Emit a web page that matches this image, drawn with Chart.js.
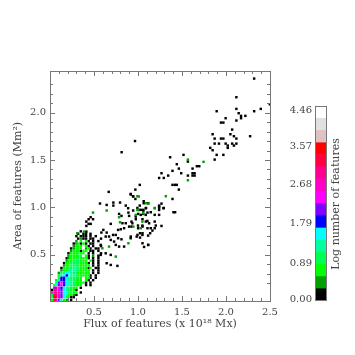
<!DOCTYPE html>
<html lang="en">
<head>
  <meta charset="UTF-8" />
  <title>Area vs flux of features</title>
  <style>
    body { margin: 0; background: #fff; }
    #wrap { position: relative; width: 355px; height: 355px; overflow: hidden; }
    canvas { position: absolute; left: 0; top: 0; }
  </style>
</head>
<body>
  <div id="wrap">
    <canvas id="scatterChart" width="355" height="355"></canvas>
    <canvas id="barChart" width="355" height="355"></canvas>
  </div>

  <script src="https://cdn.jsdelivr.net/npm/chart.js"></script>
  <script>
    // colour levels of the log count, bottom of the colour bar first
    const levelColors = ['#000000', '#00a000', '#00ff00', '#00ff50', '#00ffa0', '#00ffff', '#0000ff', '#8000ff',
      '#ff00ff', '#ff00c8', '#ff0090', '#ff0040', '#ff0000', '#e0c0c0', '#e0e0e0', '#ffffff'];
    const levelEdges = [0, 0.28, 0.56, 0.84, 1.12, 1.39, 1.67, 1.95, 2.23, 2.51, 2.79, 3.07, 3.35, 3.62, 3.9, 4.18, 4.46];
    const barTicks = [0, 0.89, 1.79, 2.68, 3.57, 4.46];

    // dense part near the origin, one string per area bin (top down), one char per flux bin, char = level
    const coreFlux = [0.02, 0.05, 0.07, 0.10, 0.13, 0.16, 0.19, 0.21, 0.24, 0.27, 0.30, 0.32, 0.35, 0.38, 0.41, 0.44, 0.46, 0.49, 0.52, 0.55, 0.58];
    const coreArea = [0.746, 0.72, 0.695, 0.669, 0.643, 0.617, 0.59, 0.565, 0.54, 0.514, 0.488, 0.462, 0.436, 0.41, 0.385, 0.359, 0.333, 0.307, 0.28, 0.255, 0.23, 0.204, 0.178, 0.15, 0.127, 0.10, 0.075, 0.05, 0.02];
    const coreLevels = [
      '............0........',
      '...........0.00.0....',
      '..........0.000.0.0..',
      '...........0100.00..0',
      '..........1.2.20.0.0.',
      '.........012020.00...',
      '.........1222.20.0..0',
      '........01222.120.00.',
      '........1222022.00.0.',
      '.......0222322.0.0..0',
      '.......122223.20.1.0.',
      '......0122332220.0.0.',
      '......122333222.20.0.',
      '.....02233332220.0.0.',
      '.....12233332222.0.0.',
      '....0223344322202.00.',
      '....122344332222.0.0.',
      '...1345543322222.0.0.',
      '...24565443222220.0..',
      '...3665433322.220.0..',
      '..24665443222.20.0...',
      '..4786544322220.0....',
      '.257865443222.0.0....',
      '.7a86543322.0........',
      '0a997543220..........',
      '9aa97553322.0........',
      '2ba97542210..........',
      '3cb9753200...........',
      '2b97421.0............'
    ];

    // isolated black cells: flux, area
    const blackFlux = [2.32, 2.118, 2.498, 2.395, 2.118, 2.32, 1.894, 2.144, 2.171, 2.171, 2.22, 1.996, 2.118, 1.943, 1.97, 2.07, 1.848, 2.05, 2.09, 2.118, 1.943, 1.97, 1.871, 2.274, 1.871, 1.92, 1.996, 2.07, 2.118, 2.02, 2.02, 2.09, 1.821, 1.848, 1.894, 1.97, 1.871,
      1.517, 1.365, 1.567, 1.441, 1.696, 1.669, 1.464, 1.62, 1.392, 1.491, 1.267, 1.62, 1.643, 1.62, 1.643, 1.567, 1.343, 1.24, 1.293, 1.392, 1.419, 1.441, 1.02, 0.97, 1.464, 0.917, 0.944, 0.97, 1.392, 1.065, 1.065, 1.267, 1.24, 1.24, 0.993, 1.02, 1.092, 1.293, 0.966, 0.814,
      0.667, 0.918, 0.945, 0.568, 0.644, 0.72, 0.796, 0.72, 0.861, 0.888, 0.945, 0.891, 1.032, 1.059, 1.116, 0.785, 0.812, 0.899, 1.002, 1.059, 1.108, 0.462, 0.439, 0.489, 0.413, 0.439, 0.462, 0.413, 0.69, 0.823, 0.861, 0.926, 0.975, 1.051, 1.089, 0.606, 0.584, 0.644, 0.633, 0.671, 0.717, 0.747, 0.774, 0.804, 0.842, 0.899, 0.926, 1.002, 1.051, 1.108, 0.413, 0.69, 0.728, 0.774, 0.812, 0.918, 0.994, 1.051, 1.138, 0.576, 0.747, 0.785, 0.842, 1.051, 1.116, 0.576, 0.633, 0.69, 0.644, 0.69, 0.766,
      1.24, 1.289, 1.24, 1.403, 1.422, 1.012, 1.061, 1.088, 1.145, 1.19, 1.24, 1.088, 1.031, 0.974, 0.936, 1.107, 1.126, 1.19, 1.202, 1.267, 1.145, 1.19, 1.164, 1.0, 1.05, 0.917, 0.985, 1.023, 1.05, 1.023, 1.115, 1.069, 1.115];
    const blackArea = [2.36, 2.163, 2.089, 2.04, 2.04, 2.015, 2.015, 1.994, 1.966, 1.941, 1.966, 1.941, 1.917, 1.895, 1.895, 1.821, 1.772, 1.772, 1.751, 1.726, 1.726, 1.726, 1.726, 1.751, 1.673, 1.673, 1.673, 1.673, 1.673, 1.652, 1.628, 1.652, 1.628, 1.603, 1.554, 1.554, 1.504,
      1.554, 1.529, 1.483, 1.455, 1.434, 1.434, 1.409, 1.409, 1.385, 1.36, 1.36, 1.36, 1.36, 1.335, 1.335, 1.335, 1.335, 1.31, 1.31, 1.237, 1.237, 1.237, 1.237, 1.187, 1.187, 1.141, 1.117, 1.088, 1.088, 1.064, 1.043, 1.039, 1.018, 0.993, 0.993, 1.018, 0.993, 0.993, 1.70, 1.582,
      1.163, 1.135, 1.114, 1.04, 1.025, 1.05, 1.05, 1.018, 1.018, 0.99, 0.966, 0.944, 0.973, 0.973, 1.043, 0.93, 0.909, 0.909, 0.93, 0.93, 0.944, 0.895, 0.874, 0.874, 0.849, 0.825, 0.825, 0.803, 0.825, 0.832, 0.832, 0.849, 0.874, 0.874, 0.849, 0.761, 0.733, 0.733, 0.691, 0.691, 0.708, 0.708, 0.761, 0.768, 0.779, 0.796, 0.796, 0.779, 0.796, 0.779, 0.743, 0.655, 0.638, 0.673, 0.662, 0.691, 0.708, 0.726, 0.726, 0.603, 0.603, 0.585, 0.585, 0.62, 0.603, 0.497, 0.514, 0.497, 0.409, 0.391, 0.381,
      0.972, 0.99, 1.008, 0.948, 0.948, 0.972, 0.965, 0.99, 0.948, 0.92, 0.92, 0.92, 0.92, 0.902, 0.831, 0.856, 0.831, 0.849, 0.807, 0.803, 0.779, 0.779, 0.754, 0.807, 0.807, 0.673, 0.69, 0.726, 0.708, 0.68, 0.701, 0.581, 0.602];

    // isolated dark green cells
    const greenFlux = [1.567, 1.745, 1.567, 0.993, 1.316, 1.118, 1.19, 1.009, 1.002, 1.089, 0.644, 0.785, 0.489, 0.796, 0.31, 0.386, 0.595, 0.671, 0.891, 0.747, 1.19, 0.993, 1.061, 0.974, 0.947, 1.05, 1.031];
    const greenArea = [1.504, 1.48, 1.286, 1.117, 1.117, 1.039, 0.993, 1.114, 0.973, 1.043, 0.966, 0.895, 0.944, 0.842, 0.726, 0.743, 0.567, 0.585, 0.62, 0.479, 0.99, 0.972, 0.937, 0.92, 0.796, 0.849, 0.779];

    // one dataset per level
    const levelPoints = levelColors.map(() => []);
    blackFlux.forEach((x, i) => levelPoints[0].push({ x: x, y: blackArea[i] }));
    greenFlux.forEach((x, i) => levelPoints[1].push({ x: x, y: greenArea[i] }));
    coreLevels.forEach((row, r) => {
      row.split('').forEach((c, i) => {
        if (c !== '.') levelPoints[parseInt(c, 16)].push({ x: coreFlux[i], y: coreArea[r] });
      });
    });

    const axisColor = '#777';
    const textColor = '#444';
    const tickFont = { family: 'DejaVu Serif', size: 10 };
    const titleFont = { family: 'DejaVu Serif', size: 11 };

    function halfLabel(v) {
      const r = Math.round(v * 10);
      return (r > 0 && r % 5 === 0 && Math.abs(v * 10 - r) < 1e-6) ? v.toFixed(1) : '';
    }

    // inward ticks on all four sides, like the original frame
    const frameTicks = {
      id: 'frameTicks',
      afterDraw(chart) {
        const { ctx, chartArea: a, scales } = chart;
        ctx.save();
        ctx.strokeStyle = axisColor;
        ctx.lineWidth = 1;
        ctx.strokeRect(a.left + 0.5, a.top + 0.5, a.right - a.left, a.bottom - a.top);
        ctx.beginPath();
        scales.x.ticks.forEach(t => {
          const p = Math.round(scales.x.getPixelForValue(t.value)) + 0.5;
          const len = t.label ? 5 : 3;
          ctx.moveTo(p, a.bottom); ctx.lineTo(p, a.bottom - len);
          ctx.moveTo(p, a.top); ctx.lineTo(p, a.top + len);
        });
        scales.y.ticks.forEach(t => {
          const p = Math.round(scales.y.getPixelForValue(t.value)) + 0.5;
          const len = t.label ? 5 : 3;
          ctx.moveTo(a.left, p); ctx.lineTo(a.left + len, p);
          ctx.moveTo(a.right, p); ctx.lineTo(a.right - len, p);
        });
        ctx.stroke();
        ctx.restore();
      }
    };

    new Chart(document.getElementById('scatterChart'), {
      type: 'scatter',
      data: {
        datasets: levelColors.map((color, i) => ({
          data: levelPoints[i],
          backgroundColor: color,
          pointStyle: 'rect',
          pointRadius: 1.73,
          pointBorderWidth: 0
        })).reverse()
      },
      options: {
        responsive: false,
        animation: false,
        events: [],
        layout: { padding: { top: 71, right: 85, left: 12, bottom: 24 } },
        plugins: { legend: { display: false }, tooltip: { enabled: false } },
        scales: {
          x: {
            type: 'linear', min: 0, max: 2.5,
            grid: { display: false, drawTicks: false },
            border: { display: false },
            afterFit(s) { s.height = 30; },
            ticks: { stepSize: 0.1, autoSkip: false, maxRotation: 0, color: textColor, font: tickFont, padding: 5, callback: halfLabel },
            title: { display: true, text: 'Flux of features (x 10¹⁸ Mx)', color: textColor, font: titleFont, padding: { top: 2, bottom: 0 } }
          },
          y: {
            type: 'linear', min: 0.01, max: 2.44,
            grid: { display: false, drawTicks: false },
            border: { display: false },
            afterFit(s) { s.width = 38; },
            ticks: { stepSize: 0.1, autoSkip: false, color: textColor, font: tickFont, padding: 4, callback: halfLabel },
            title: { display: true, text: 'Area of features (Mm²)', color: textColor, font: titleFont, padding: { top: 0, bottom: 2 } }
          }
        }
      },
      plugins: [frameTicks]
    });

    // colour bar labels sit just inside the bar ends
    const barLabels = {
      id: 'barLabels',
      afterDraw(chart) {
        const { ctx, chartArea: a, scales } = chart;
        ctx.save();
        ctx.strokeStyle = axisColor;
        ctx.strokeRect(a.left + 0.5, a.top + 0.5, a.right - a.left - 1, a.bottom - a.top - 1);
        ctx.fillStyle = textColor;
        ctx.font = '10px "DejaVu Serif"';
        ctx.textAlign = 'right';
        ctx.textBaseline = 'middle';
        barTicks.forEach(v => {
          const p = Math.min(Math.max(scales.y.getPixelForValue(v), a.top + 3), a.bottom - 3);
          ctx.fillText(v.toFixed(2), a.left - 3, p + 1);
        });
        ctx.translate(336, 204);
        ctx.rotate(-Math.PI / 2);
        ctx.textAlign = 'center';
        ctx.font = '11px "DejaVu Serif"';
        ctx.fillText('Log number of features', 0, 0);
        ctx.restore();
      }
    };

    new Chart(document.getElementById('barChart'), {
      type: 'bar',
      data: {
        labels: ['levels'],
        datasets: levelColors.map((color, i) => ({
          data: [[levelEdges[i], levelEdges[i + 1]]],
          backgroundColor: color,
          borderWidth: 0,
          barPercentage: 1,
          categoryPercentage: 1,
          grouped: false
        }))
      },
      options: {
        responsive: false,
        animation: false,
        events: [],
        layout: { padding: { left: 315, right: 28, top: 106, bottom: 54 } },
        plugins: { legend: { display: false }, tooltip: { enabled: false } },
        scales: {
          x: { display: false },
          y: { display: false, min: 0, max: 4.46 }
        }
      },
      plugins: [barLabels]
    });
  </script>
</body>
</html>
